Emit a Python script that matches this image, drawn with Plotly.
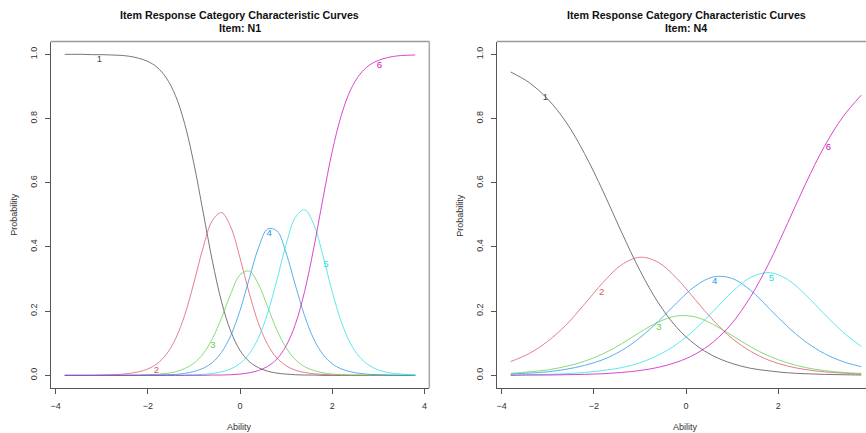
import plotly.graph_objects as go

# ---------------- data ----------------
theta_n1 = [-3.8, -3.6, -3.4, -3.2, -3.0, -2.8, -2.6, -2.4, -2.2, -2.0, -1.8, -1.6, -1.4,
            -1.2, -1.0, -0.8, -0.6, -0.4, -0.2, 0.0, 0.2, 0.4, 0.6, 0.8, 1.0, 1.2, 1.4,
            1.6, 1.8, 2.0, 2.2, 2.4, 2.6, 2.8, 3.0, 3.2, 3.4, 3.6, 3.8]
n1_cat1 = [1000,1000,1000,999,999,998,997,994,988,978,960,927,872,784,660,509,357,229,137,78,43,24,13,7,4,2,1,1,0,0,0,0,0,0,0,0,0,0,0]
n1_cat2 = [0,0,0,0,1,2,3,6,11,20,36,65,113,187,288,398,482,507,462,366,256,162,96,54,30,16,9,5,3,1,1,0,0,0,0,0,0,0,0]
n1_cat3 = [0,0,0,0,0,0,0,1,1,2,3,6,11,21,38,67,114,179,254,313,325,284,213,141,86,49,27,15,8,4,2,1,1,0,0,0,0,0,0]
n1_cat4 = [0,0,0,0,0,0,0,0,0,1,1,2,3,6,12,22,40,72,124,202,301,397,456,450,381,281,186,113,65,36,20,11,6,3,2,1,0,0,0]
n1_cat5 = [0,0,0,0,0,0,0,0,0,0,0,0,0,1,2,3,6,11,20,37,67,117,194,297,408,492,516,470,372,260,165,98,56,31,17,9,5,3,1]
n1_cat6 = [0,0,0,0,0,0,0,0,0,0,0,0,0,0,0,0,1,1,2,4,8,15,28,51,92,159,261,397,552,698,812,890,938,966,981,990,995,997,998]

theta_n4 = [-3.8, -3.4, -3.0, -2.6, -2.2, -1.8, -1.4, -1.0, -0.6, -0.2, 0.2, 0.6, 1.0,
            1.4, 1.8, 2.2, 2.6, 3.0, 3.4, 3.8]
n4_cat1 = [0.945,0.912,0.861,0.789,0.691,0.574,0.447,0.327,0.226,0.149,0.096,0.060,0.037,0.022,0.014,0.008,0.005,0.003,0.002,0.001]
n4_cat2 = [0.043,0.068,0.106,0.157,0.222,0.289,0.344,0.368,0.352,0.302,0.236,0.170,0.115,0.075,0.047,0.029,0.018,0.011,0.007,0.004]
n4_cat3 = [0.006,0.011,0.017,0.028,0.044,0.067,0.098,0.134,0.166,0.185,0.182,0.158,0.124,0.089,0.060,0.039,0.024,0.015,0.009,0.006]
n4_cat4 = [0.004,0.007,0.011,0.019,0.031,0.049,0.077,0.117,0.168,0.226,0.278,0.307,0.302,0.265,0.209,0.152,0.104,0.068,0.043,0.027]
n4_cat5 = [0.001,0.002,0.003,0.005,0.009,0.015,0.024,0.039,0.063,0.097,0.144,0.201,0.260,0.305,0.320,0.299,0.250,0.191,0.135,0.090]
n4_cat6 = [0.000,0.001,0.001,0.002,0.003,0.005,0.009,0.015,0.025,0.041,0.066,0.105,0.163,0.245,0.350,0.473,0.599,0.713,0.805,0.873]

categories = ["1", "2", "3", "4", "5", "6"]
n1_label_theta = [-3.05, -1.81, -0.59, 0.63, 1.86, 3.02]
n1_label_prob = [0.982, 0.014, 0.092, 0.442, 0.346, 0.966]
n4_label_theta = [-3.05, -1.83, -0.59, 0.62, 1.85, 3.09]
n4_label_prob = [0.865, 0.259, 0.148, 0.291, 0.302, 0.710]

titles = ["Item Response Category Characteristic Curves", "Item: N1", "Item: N4"]
x_ticks = [-4, -2, 0, 2, 4]
y_ticks = [0.0, 0.2, 0.4, 0.6, 0.8, 1.0]

# ---------------- style ----------------
colors = ["#4a4a4a", "#DF536B", "#61D04F", "#2297E6", "#28E2E5", "#CD0BBC"]
FONT = "Liberation Sans, Arial, Helvetica, sans-serif"
W, H = 866, 433

def px_x(p):
    return p / W

def px_y(p):
    return (H - p) / H

L_X0, L_X1 = 50.7, 429.3
R_X0 = 496.7
Y_TOP, Y_BOT = 41.5, 388.2
ppu = (L_X1 - L_X0) / 8.208
right_max = -4.104 + (W - R_X0) / ppu

fig = go.Figure()

n1_series = [[v / 1000 for v in s] for s in [n1_cat1, n1_cat2, n1_cat3, n1_cat4, n1_cat5, n1_cat6]]
n4_series = [n4_cat1, n4_cat2, n4_cat3, n4_cat4, n4_cat5, n4_cat6]

for i, s in enumerate(n1_series):
    fig.add_trace(go.Scatter(x=theta_n1, y=s, mode="lines", xaxis="x", yaxis="y",
                             line=dict(color=colors[i], width=1, shape="spline", smoothing=1.0),
                             opacity=0.75, showlegend=False, hoverinfo="skip"))
for i, s in enumerate(n4_series):
    fig.add_trace(go.Scatter(x=theta_n4, y=s, mode="lines", xaxis="x2", yaxis="y2",
                             line=dict(color=colors[i], width=1, shape="spline", smoothing=1.0),
                             opacity=0.75, showlegend=False, hoverinfo="skip"))

# category labels on curves
fig.add_trace(go.Scatter(x=n1_label_theta, y=n1_label_prob, mode="text", text=categories,
                         textfont=dict(color=colors, size=9.5, family=FONT),
                         xaxis="x", yaxis="y", showlegend=False, hoverinfo="skip"))
fig.add_trace(go.Scatter(x=n4_label_theta, y=n4_label_prob, mode="text", text=categories,
                         textfont=dict(color=colors, size=9.5, family=FONT),
                         xaxis="x2", yaxis="y2", showlegend=False, hoverinfo="skip"))

axis_common = dict(showgrid=False, zeroline=False, showline=True, linecolor="#555555",
                   linewidth=1, ticks="outside", ticklen=5, tickcolor="#555555", tickwidth=1,
                   tickfont=dict(size=9, color="#333333", family=FONT), ticklabelstandoff=4)

yd = [px_y(Y_BOT), px_y(Y_TOP)]
fig.update_layout(
    width=W, height=H, margin=dict(l=0, r=0, t=0, b=0),
    paper_bgcolor="white", plot_bgcolor="white",
    xaxis=dict(domain=[px_x(L_X0), px_x(L_X1)], range=[-4.104, 4.104], tickvals=x_ticks,
               anchor="y", **axis_common),
    yaxis=dict(domain=yd, range=[-0.04, 1.04], tickvals=y_ticks, tickformat=".1f",
               tickangle=-90, anchor="x", **axis_common),
    xaxis2=dict(domain=[px_x(R_X0), 1.0], range=[-4.104, right_max], tickvals=x_ticks,
                anchor="y2", **axis_common),
    yaxis2=dict(domain=yd, range=[-0.04, 1.04], tickvals=y_ticks, tickformat=".1f",
                tickangle=-90, anchor="x2", **axis_common),
)

# box edges (top / right)
shapes = [
    dict(type="line", xref="paper", yref="paper", x0=px_x(L_X0), x1=px_x(L_X1),
         y0=px_y(Y_TOP), y1=px_y(Y_TOP), line=dict(color="#9a9a9a", width=1.3)),
    dict(type="line", xref="paper", yref="paper", x0=px_x(L_X1), x1=px_x(L_X1),
         y0=px_y(Y_TOP), y1=px_y(Y_BOT), line=dict(color="#ababab", width=1.6)),
    dict(type="line", xref="paper", yref="paper", x0=px_x(R_X0), x1=1.0,
         y0=px_y(Y_TOP), y1=px_y(Y_TOP), line=dict(color="#9a9a9a", width=1.3)),
]
fig.update_layout(shapes=shapes)

ann = []
for cx, sub in [((L_X0 + L_X1) / 2, titles[1]), ((R_X0 + R_X0 + (L_X1 - L_X0)) / 2, titles[2])]:
    ann.append(dict(x=px_x(cx), y=px_y(15.5), xref="paper", yref="paper", text="<b>%s</b>" % titles[0],
                    showarrow=False, xanchor="center", yanchor="middle",
                    font=dict(size=10.7, color="#111111", family=FONT)))
    ann.append(dict(x=px_x(cx), y=px_y(27.5), xref="paper", yref="paper", text="<b>%s</b>" % sub,
                    showarrow=False, xanchor="center", yanchor="middle",
                    font=dict(size=10.7, color="#111111", family=FONT)))
for cx in [240.0, 685.7]:
    ann.append(dict(x=px_x(cx), y=px_y(426.5), xref="paper", yref="paper", text="Ability",
                    showarrow=False, xanchor="center", yanchor="middle",
                    font=dict(size=9, color="#333333", family=FONT)))
for cx in [14.0, 460.0]:
    ann.append(dict(x=px_x(cx), y=px_y(214.8), xref="paper", yref="paper", text="Probability",
                    textangle=-90, showarrow=False, xanchor="center", yanchor="middle",
                    font=dict(size=9, color="#333333", family=FONT)))
fig.update_layout(annotations=ann)

fig.write_html("out.html")
